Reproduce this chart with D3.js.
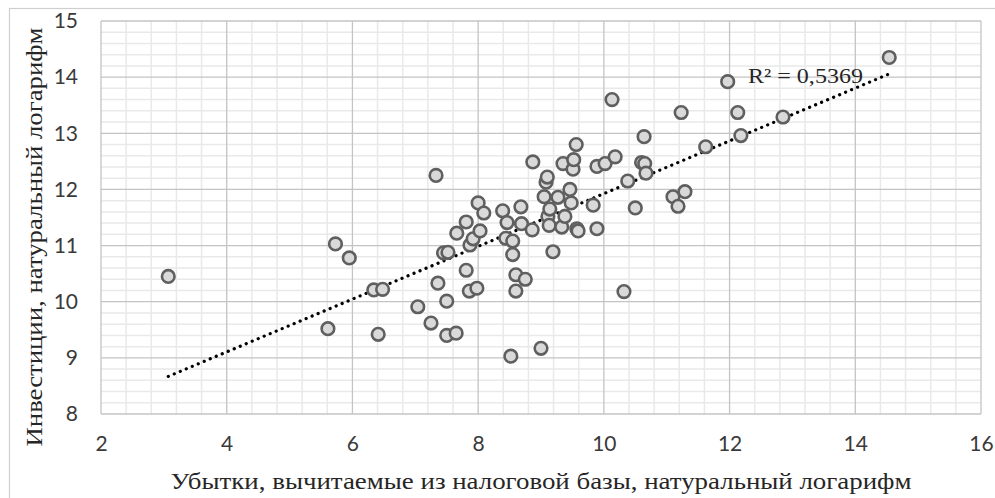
<!DOCTYPE html>
<html>
<head>
<meta charset="utf-8">
<script src="https://cdn.jsdelivr.net/npm/d3@7"></script>
<style>
  body { margin: 0; background: #fff; }
  svg { display: block; }
</style>
</head>
<body>
<svg id="chart" width="995" height="498"></svg>
<script>
// Loss carry-forward (ln) vs investment (ln)
const lossX = [3.07, 5.73, 5.95, 5.61, 6.34, 6.48, 6.41, 7.04, 7.25, 7.36,
  7.50, 7.50, 7.65, 7.81, 7.86, 7.98, 7.45, 7.52, 7.33, 7.87,
  7.92, 7.66, 8.03, 7.81, 8.00, 8.09, 8.39, 8.46, 8.44, 8.55,
  8.55, 8.60, 8.75, 8.60, 8.52, 9.00, 8.68, 8.69, 8.86, 8.87,
  9.19, 9.05, 9.08, 9.10, 9.11, 9.13, 9.14, 9.27, 9.33, 9.35,
  9.38, 9.46, 9.48, 9.51, 9.52, 9.56, 9.57, 9.59, 9.83, 9.89,
  9.89, 10.02, 10.18, 10.13, 10.32, 10.38, 10.50, 10.60, 10.65, 10.67,
  10.64, 11.10, 11.29, 11.18, 11.23, 11.62, 11.97, 12.13, 12.18, 12.85,
  14.54];
const investY = [10.45, 11.03, 10.78, 9.52, 10.21, 10.22, 9.42, 9.91, 9.62, 10.33,
  10.01, 9.40, 9.44, 10.56, 10.19, 10.24, 10.87, 10.88, 12.25, 11.01,
  11.12, 11.22, 11.26, 11.42, 11.76, 11.58, 11.62, 11.41, 11.13, 11.08,
  10.84, 10.48, 10.40, 10.19, 9.03, 9.17, 11.69, 11.39, 11.28, 12.49,
  10.89, 11.87, 12.13, 12.22, 11.52, 11.36, 11.65, 11.86, 11.33, 12.46,
  11.52, 12.00, 11.76, 12.36, 12.53, 12.80, 11.30, 11.26, 11.72, 11.30,
  12.41, 12.46, 12.58, 13.60, 10.18, 12.15, 11.67, 12.48, 12.46, 12.29,
  12.94, 11.87, 11.96, 11.70, 13.37, 12.76, 13.92, 13.37, 12.96, 13.29,
  14.35];

// linear trend (Excel trendline), R² label as shown
const trendSlope = 0.4698;
const trendIntercept = 7.227;
const r2Label = "R² = 0,5369";

const xTicks = [2, 4, 6, 8, 10, 12, 14, 16];
const yTicks = [8, 9, 10, 11, 12, 13, 14, 15];
const xTitle = "Убытки, вычитаемые из налоговой базы, натуральный логарифм";
const yTitle = "Инвестиции, натуральный логарифм";

const svg = d3.select("#chart");
const plot = { left: 101, right: 981, top: 21, bottom: 414 };

const x = d3.scaleLinear().domain([2, 16]).range([plot.left, plot.right]);
const y = d3.scaleLinear().domain([8, 15]).range([plot.bottom, plot.top]);

// outer chart frame (cropped on the right and bottom)
svg.append("rect")
  .attr("x", 9.5).attr("y", 8.5)
  .attr("width", 1000).attr("height", 520)
  .attr("fill", "none")
  .attr("stroke", "#cfcfcf")
  .attr("stroke-width", 1.2);

const grid = svg.append("g");

// minor gridlines
const xMinor = d3.range(2, 16.001, 0.4).filter(v => Math.abs(v / 2 - Math.round(v / 2)) > 1e-6);
const yMinor = d3.range(8, 15.001, 0.2).filter(v => Math.abs(v - Math.round(v)) > 1e-6);

grid.selectAll(".xminor").data(xMinor).join("line")
  .attr("x1", d => x(d)).attr("x2", d => x(d))
  .attr("y1", plot.top).attr("y2", plot.bottom)
  .attr("stroke", "#e9e9e9").attr("stroke-width", 1.5);

grid.selectAll(".yminor").data(yMinor).join("line")
  .attr("x1", plot.left).attr("x2", plot.right)
  .attr("y1", d => y(d)).attr("y2", d => y(d))
  .attr("stroke", "#e9e9e9").attr("stroke-width", 1.5);

// major gridlines
grid.selectAll(".xmajor").data(xTicks).join("line")
  .attr("x1", d => x(d)).attr("x2", d => x(d))
  .attr("y1", plot.top).attr("y2", plot.bottom)
  .attr("stroke", "#c4c4c4").attr("stroke-width", 1.3);

grid.selectAll(".ymajor").data(yTicks).join("line")
  .attr("x1", plot.left).attr("x2", plot.right)
  .attr("y1", d => y(d)).attr("y2", d => y(d))
  .attr("stroke", "#c4c4c4").attr("stroke-width", 1.3);

// axes, only labels
const xAxis = svg.append("g")
  .attr("transform", `translate(0,${plot.bottom})`)
  .call(d3.axisBottom(x).tickValues(xTicks).tickFormat(d3.format("d")).tickSize(0).tickPadding(22));
const yAxis = svg.append("g")
  .attr("transform", `translate(${plot.left},0)`)
  .call(d3.axisLeft(y).tickValues(yTicks).tickFormat(d3.format("d")).tickSize(0).tickPadding(23));

[xAxis, yAxis].forEach(a => {
  a.select(".domain").remove();
  a.selectAll("text")
    .attr("fill", "#3a3a3a")
    .style("font-family", "Lato, 'Open Sans', sans-serif")
    .style("font-size", "21px");
});

// trend line
const tx = d3.extent(lossX);
const trendLine = d3.line().x(d => x(d)).y(d => y(trendIntercept + trendSlope * d));
svg.append("path")
  .attr("d", trendLine(tx))
  .attr("fill", "none")
  .attr("stroke", "#000")
  .attr("stroke-width", 3.2)
  .attr("stroke-linecap", "round")
  .attr("stroke-dasharray", "0.1,6.4");

// points
const pts = lossX.map((v, i) => ({ x: v, y: investY[i] }));
svg.append("g").selectAll("circle").data(pts).join("circle")
  .attr("cx", d => x(d.x))
  .attr("cy", d => y(d.y))
  .attr("r", 6.3)
  .attr("fill", "#d9d9d9")
  .attr("stroke", "#5f5f5f")
  .attr("stroke-width", 2.6);

// R² label
svg.append("text")
  .attr("x", 748).attr("y", 83)
  .attr("textLength", 115).attr("lengthAdjust", "spacingAndGlyphs")
  .style("font-family", "'Liberation Serif', 'DejaVu Serif', serif")
  .style("font-size", "22px")
  .attr("fill", "#262626")
  .text(r2Label);

// axis titles
svg.append("text")
  .attr("x", 541).attr("y", 489)
  .attr("text-anchor", "middle")
  .attr("textLength", 741).attr("lengthAdjust", "spacingAndGlyphs")
  .style("font-family", "'Liberation Serif', 'DejaVu Serif', serif")
  .style("font-size", "24px")
  .attr("fill", "#262626")
  .text(xTitle);

svg.append("text")
  .attr("transform", "translate(42,237) rotate(-90)")
  .attr("text-anchor", "middle")
  .attr("textLength", 419).attr("lengthAdjust", "spacingAndGlyphs")
  .style("font-family", "'Liberation Serif', 'DejaVu Serif', serif")
  .style("font-size", "24px")
  .attr("fill", "#262626")
  .text(yTitle);
</script>
</body>
</html>
